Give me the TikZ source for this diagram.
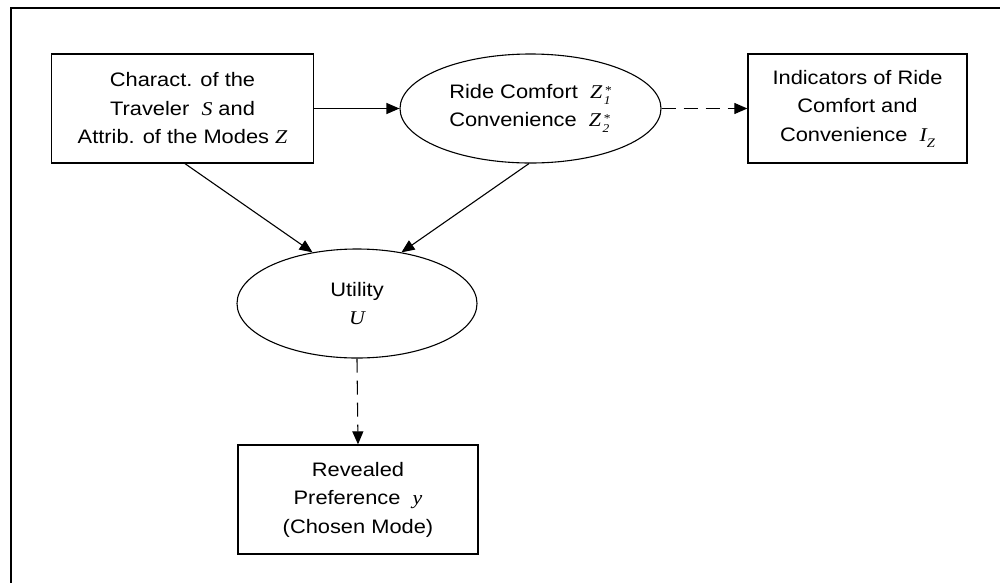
\documentclass[tikz,border=0pt]{standalone}
\usepackage{fontspec}
\usepackage{graphicx}
\setmainfont{Liberation Sans}
\newfontfamily\tms{Liberation Serif}
\usetikzlibrary{shapes.geometric,arrows.meta}
\newcommand\V[1]{{\tms\itshape #1}}
\newcommand\W[1]{\scalebox{1.12}[1]{#1}}
\newcommand\Zs[1]{\V{Z}\kern1.5pt\raisebox{-6pt}{\shortstack[l]{\tms\fontsize{12}{13}\selectfont \kern1pt*\\[-1pt]\V{\fontsize{12}{12}\selectfont #1}}}}
\tikzset{
  box/.style={draw, line width=1.3pt, rectangle, align=center, inner sep=0pt,
    font=\fontsize{19.5}{28.5}\selectfont},
  oval/.style={draw, line width=1.1pt, ellipse, inner sep=0pt,
    font=\fontsize{19.5}{28.5}\selectfont},
  arr/.style={line width=1.1pt, -{Triangle[length=13pt,width=11pt]}},
  darr/.style={arr, dash pattern=on 14pt off 8pt},
}
\begin{document}
\begin{tikzpicture}[x=1pt,y=-1pt]
\useasboundingbox (0,0) rectangle (1000,582);
\draw[line width=1.5pt] (11,8) rectangle (1012,594);
\node[box, minimum width=262pt, minimum height=109pt] (A) at (182.5,108.5)
  {\W{Charact. of the}\\ \W{Traveler \ \V{S} and}\\ \W{Attrib. of the Modes \V{Z}}};
\node[oval, minimum width=261pt, minimum height=109pt, align=left] (B) at (530.5,108.5)
  {\W{Ride Comfort \ \Zs{1}}\\ \W{Convenience \ \Zs{2}}};
\node[box, minimum width=219pt, minimum height=109pt] (C) at (857.5,108.5)
  {\W{Indicators of Ride}\\ \W{Comfort and}\\ \W{Convenience \ \V{I}\raisebox{-6pt}{\V{\fontsize{13}{13}\selectfont Z}}}};
\node[oval, minimum width=240pt, minimum height=109pt, align=center] (U) at (357,303.5)
  {\W{Utility}\\ \W{\V{U}}};
\node[box, minimum width=240pt, minimum height=109pt] (D) at (358,499.5)
  {\W{Revealed}\\ \W{Preference \ \V{y}}\\ \W{(Chosen Mode)}};
\draw[arr] (A.east) -- (B.west);
\draw[darr] (B.east) -- (C.west);
\draw[arr] ([xshift=2.5pt]A.south) -- (U.131);
\draw[arr] ([xshift=-1.5pt]B.south) -- (U.49);
\draw[darr] (U.south) -- (D.north);
\end{tikzpicture}
\end{document}
